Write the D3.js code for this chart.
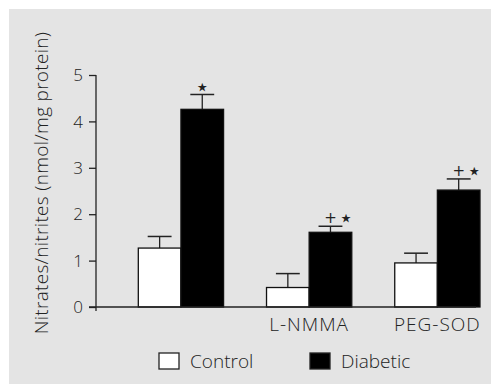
<!DOCTYPE html>
<html>
<head>
<meta charset="utf-8">
<script src="https://cdn.jsdelivr.net/npm/d3@7"></script>
<style>
  body { margin: 0; background: #fff; }
  text { font-family: "Open Sans", "Liberation Sans", sans-serif; font-weight: 300; fill: #222; }
</style>
</head>
<body>
<div id="chart"></div>
<script>
const svgWidth = 491;
const svgHeight = 385;
const margin = { top: 75, right: 11, bottom: 78, left: 96 };

const width = svgWidth - margin.left - margin.right;
const height = svgHeight - margin.top - margin.bottom;

// data
const groups = ["Basal", "L-NMMA", "PEG-SOD"];
const groupLabels = ["", "L-NMMA", "PEG-SOD"];
const series = ["Control", "Diabetic"];
const controlMean = [1.27, 0.42, 0.95];
const controlErr = [0.25, 0.30, 0.21];
const diabeticMean = [4.26, 1.61, 2.52];
const diabeticErr = [0.32, 0.13, 0.24];
const diabeticMarks = [["*"], ["+", "*"], ["+", "*"]];
const yTicks = [0, 1, 2, 3, 4, 5];

const svg = d3.select("#chart")
    .append("svg")
    .attr("width", svgWidth)
    .attr("height", svgHeight);

// grey panel
svg.append("rect")
    .attr("x", 9).attr("y", 9)
    .attr("width", svgWidth - 9).attr("height", svgHeight - 10)
    .attr("fill", "#e4e4e4");

const g = svg.append("g")
    .attr("transform", `translate(${margin.left},${margin.top})`);

const x0 = d3.scaleBand()
    .domain(groups)
    .range([0, 384])
    .paddingInner(0.335)
    .paddingOuter(0.165)
    .align(1);

const x1 = d3.scaleBand()
    .domain(series)
    .range([0, x0.bandwidth()]);

const y = d3.scaleLinear()
    .domain([0, 5])
    .range([height, 0]);

const rows = [];
groups.forEach((grp, i) => {
    rows.push({ grp, s: "Control", v: controlMean[i], e: controlErr[i], mark: [] });
    rows.push({ grp, s: "Diabetic", v: diabeticMean[i], e: diabeticErr[i], mark: diabeticMarks[i] });
});

// y axis
const yAxis = d3.axisLeft(y)
    .tickValues(yTicks)
    .tickFormat(d3.format("d"))
    .tickSize(7)
    .tickSizeOuter(0)
    .tickPadding(6);

const ya = g.append("g").attr("class", "y-axis").call(yAxis);
ya.select(".domain").remove();
ya.selectAll(".tick line").attr("stroke", "#222").attr("stroke-width", 1.3);
ya.selectAll(".tick text")
    .style("font-size", "17px")
    .style("font-family", null)
    .attr("dy", "0.34em");

g.append("line")
    .attr("x1", 0).attr("x2", 0)
    .attr("y1", y(5)).attr("y2", height + 4)
    .attr("stroke", "#222").attr("stroke-width", 1.3);

// bars
const bar = g.selectAll(".bar")
    .data(rows)
    .enter()
    .append("g")
    .attr("class", "bar")
    .attr("transform", d => `translate(${x0(d.grp) + x1(d.s)},0)`);

// error bars
bar.append("line")
    .attr("x1", x1.bandwidth() / 2).attr("x2", x1.bandwidth() / 2)
    .attr("y1", d => y(d.v)).attr("y2", d => y(d.v + d.e))
    .attr("stroke", "#222").attr("stroke-width", 1.3);

bar.append("line")
    .attr("x1", x1.bandwidth() * 0.22).attr("x2", x1.bandwidth() * 0.78)
    .attr("y1", d => y(d.v + d.e)).attr("y2", d => y(d.v + d.e))
    .attr("stroke", "#222").attr("stroke-width", 1.5);

// significance marks: + vs basal, star vs control
const markText = bar.append("text")
    .attr("x", x1.bandwidth() / 2)
    .attr("text-anchor", "middle")
    .style("font-family", "'DejaVu Sans', sans-serif")
    .style("font-weight", "normal");

markText.selectAll("tspan")
    .data(d => d.mark.map(m => ({ m, top: y(d.v + d.e) })))
    .enter()
    .append("tspan")
    .attr("y", d => d.m === "+" ? d.top - 3 : d.top)
    .attr("dx", (d, i) => i > 0 ? 3 : 0)
    .style("font-size", d => d.m === "+" ? "15px" : "24px")
    .text(d => d.m === "+" ? "+" : "⋆");

bar.append("rect")
    .attr("x", 0)
    .attr("y", d => y(d.v))
    .attr("width", x1.bandwidth())
    .attr("height", d => height - y(d.v))
    .attr("fill", d => d.s === "Control" ? "#fff" : "#000")
    .attr("stroke", "#111")
    .attr("stroke-width", 1.3);

// x baseline
g.append("line")
    .attr("x1", -7).attr("x2", x0.range()[1] - 4)
    .attr("y1", height).attr("y2", height)
    .attr("stroke", "#222").attr("stroke-width", 1.3);

// group labels
g.selectAll(".group-label")
    .data(groups)
    .enter()
    .append("text")
    .attr("class", "group-label")
    .attr("x", d => x0(d) + x0.bandwidth() / 2)
    .attr("y", height + 24)
    .attr("text-anchor", "middle")
    .style("font-size", "19px")
    .style("letter-spacing", "1px")
    .text((d, i) => groupLabels[i]);

// y label
svg.append("text")
    .attr("transform", `translate(48,${(33 + 333) / 2}) rotate(-90)`)
    .attr("text-anchor", "middle")
    .style("font-size", "19px")
    .style("letter-spacing", "0.3px")
    .text("Nitrates/nitrites (nmol/mg protein)");

// legend
const legendX = [159, 310];
const legend = svg.selectAll(".legend")
    .data(series)
    .enter()
    .append("g")
    .attr("class", "legend")
    .attr("transform", (d, i) => `translate(${legendX[i]},353)`);

legend.append("rect")
    .attr("width", 20).attr("height", 16)
    .attr("fill", d => d === "Control" ? "#fff" : "#000")
    .attr("stroke", "#222").attr("stroke-width", 1.3);

legend.append("text")
    .attr("x", 31).attr("y", 15)
    .style("font-size", "19px")
    .text(d => d);
</script>
</body>
</html>
